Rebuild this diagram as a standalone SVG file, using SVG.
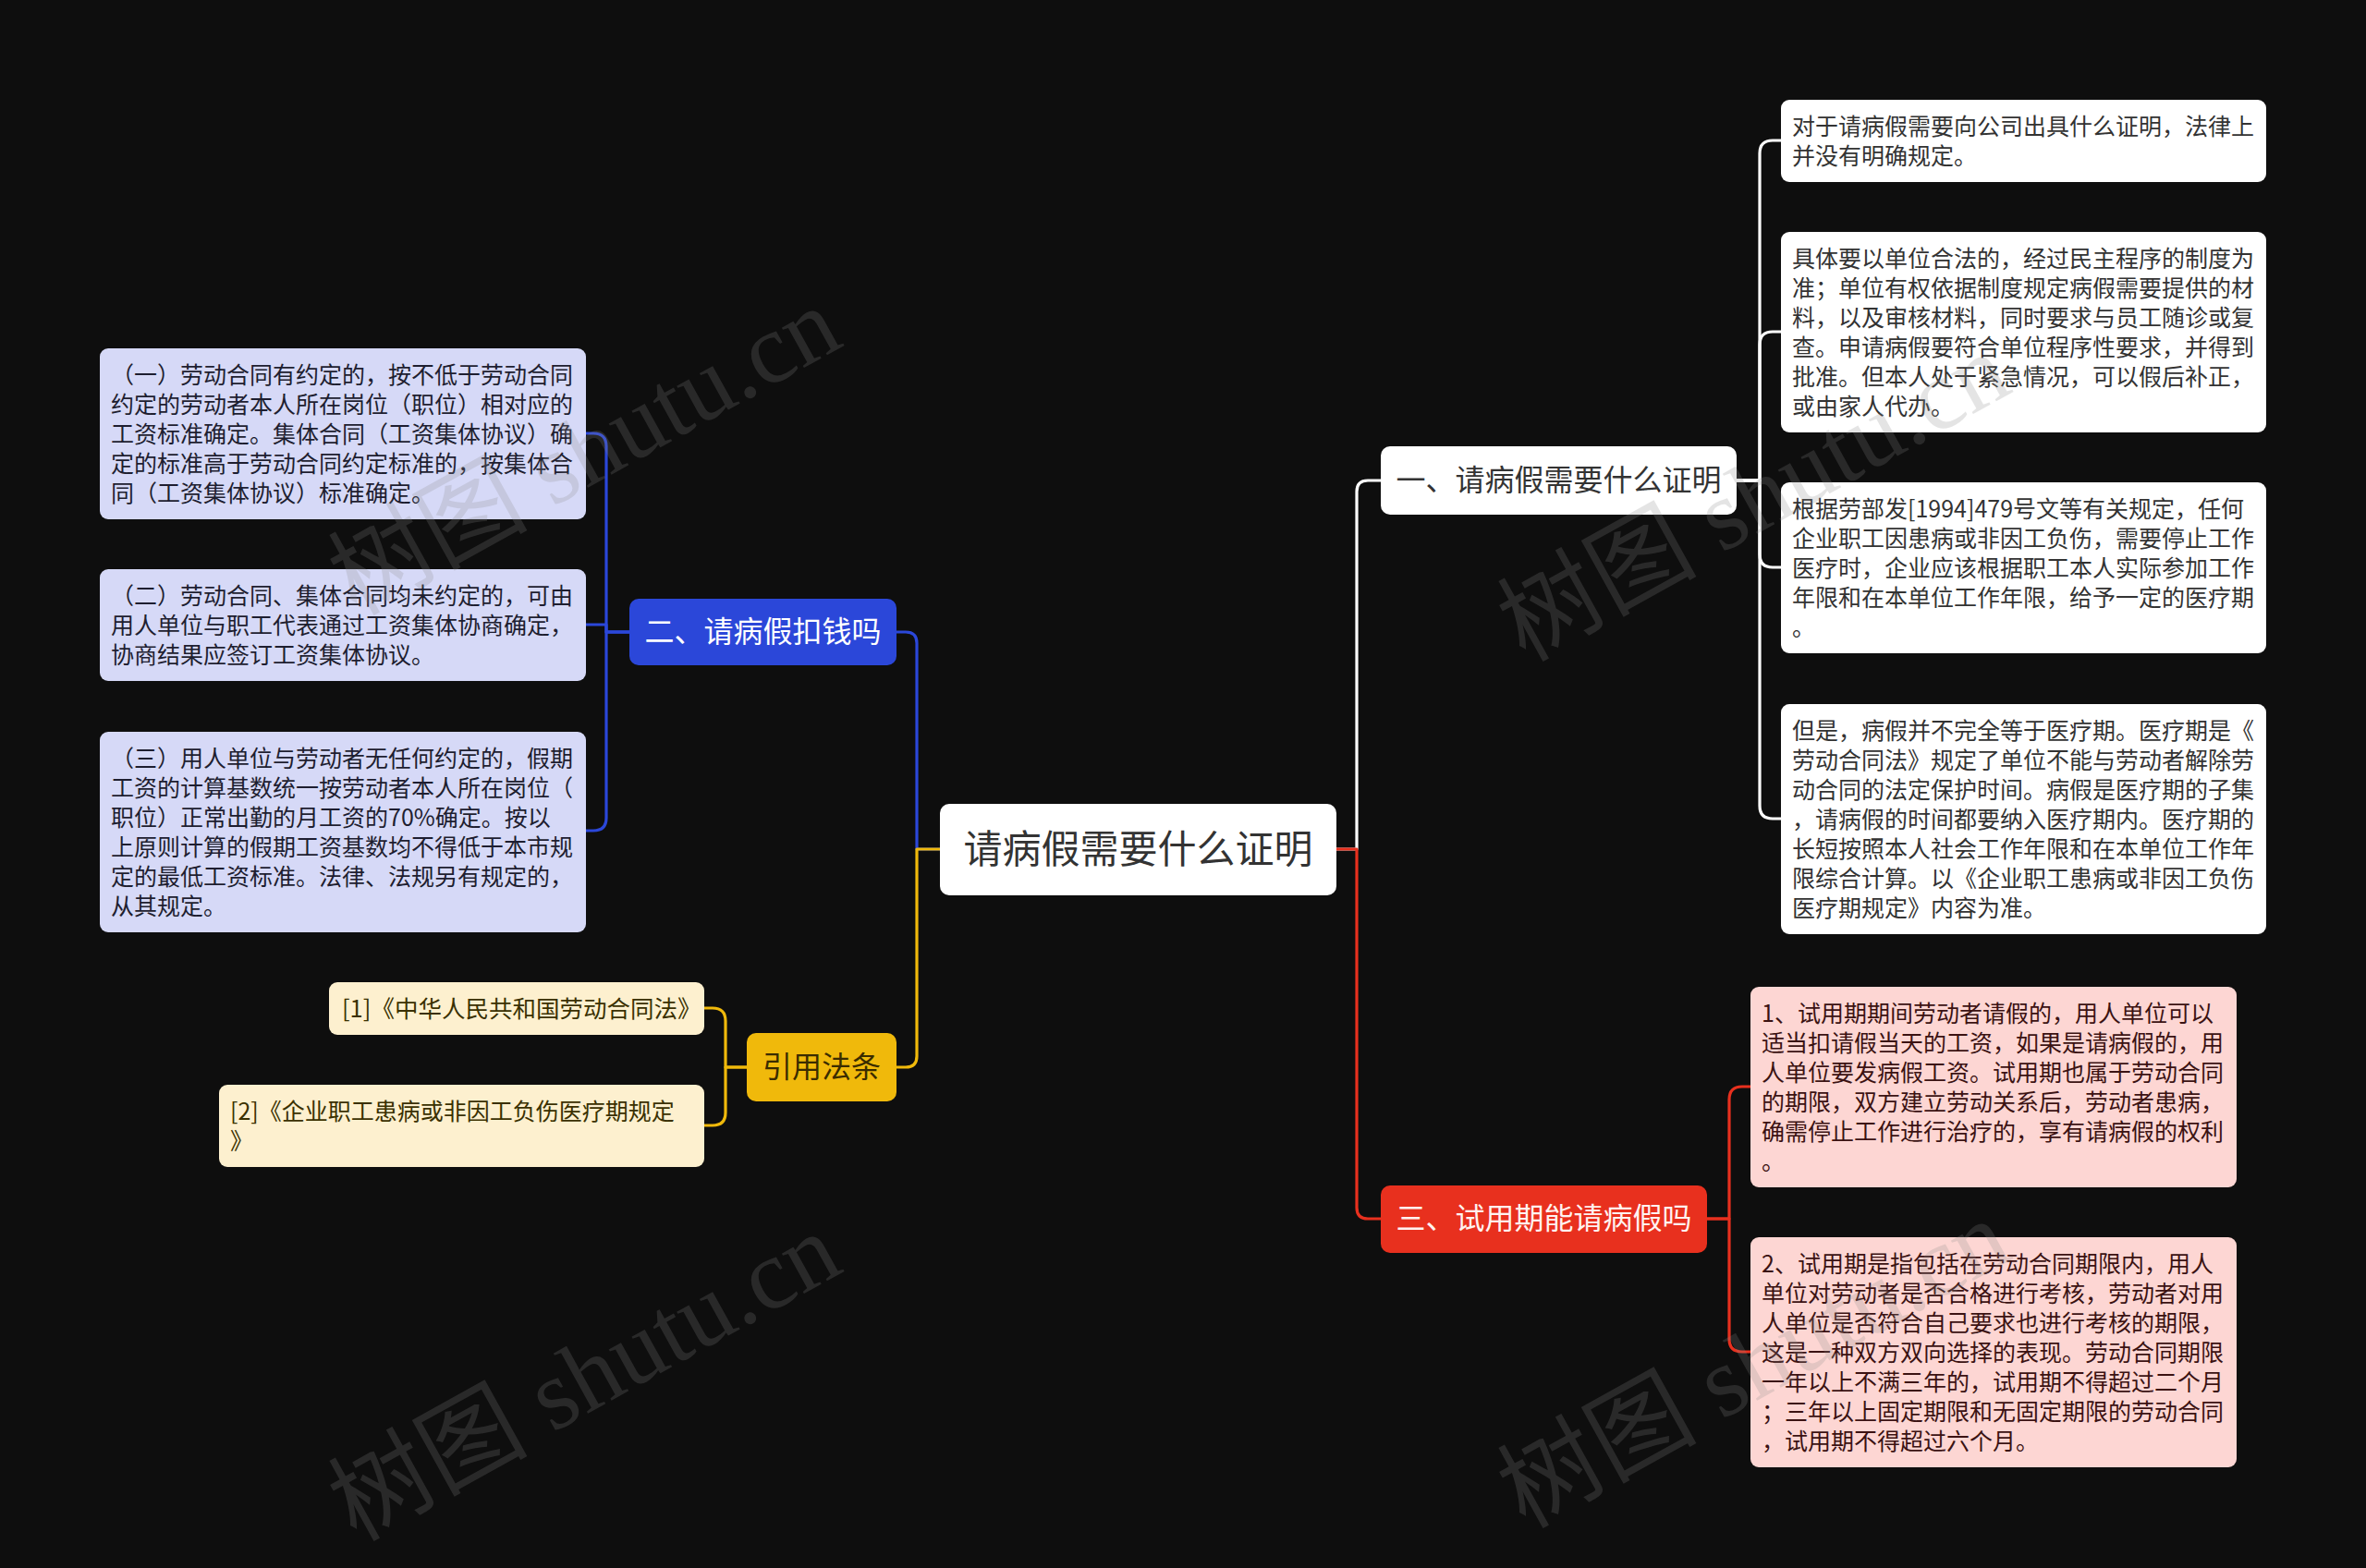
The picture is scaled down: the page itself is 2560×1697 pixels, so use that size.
<svg xmlns="http://www.w3.org/2000/svg" width="2560" height="1697" viewBox="0 0 2560 1697">
<style>
text{font-family:"Noto Sans CJK SC","Noto Sans",sans-serif}
.conn{fill:none;stroke-width:3.2;stroke-linejoin:round}
.cb{stroke:#2b47d9}.cy{stroke:#f0b90b}.cw{stroke:#ffffff}.cr{stroke:#e8301e}
.lt{font-size:25px}
.lb{fill:#d6d9f7}.tb{fill:#1e1e30}
.ly{fill:#fdf0cf}.ty{fill:#3a3000}
.lw{fill:#ffffff}.tw{fill:#333333}
.lr{fill:#fdd6d3}.tr{fill:#3b1212}
.br{font-size:32px;text-anchor:middle}
.wm{font-family:"Liberation Serif","Noto Sans CJK SC",serif;font-size:108px;fill:#8a8a8a;opacity:0.22}
</style>
<rect x="0" y="0" width="2560" height="1697" fill="#0e0e0e"/>
<g id="connectors">
<path class="conn cw" d="M1446,919 H1468 V532 Q1468,520 1480,520 H1494"/>
<path class="conn cr" d="M1446,919 H1468 V1307 Q1468,1319 1480,1319 H1494"/>
<path class="conn cb" d="M1017,919 H992 V696 Q992,684 980,684 H970"/>
<path class="conn cy" d="M1017,919 H992 V1143 Q992,1155 980,1155 H970"/>
<path class="conn cb" d="M681,684 H656 V483 Q656,469 642,469 H634"/>
<path class="conn cb" d="M681,684 H656 V676 H634"/>
<path class="conn cb" d="M681,684 H656 V885 Q656,899 642,899 H634"/>
<path class="conn cy" d="M808,1155 H785 V1105 Q785,1091 771,1091 H762"/>
<path class="conn cy" d="M808,1155 H785 V1204 Q785,1218 771,1218 H762"/>
<path class="conn cw" d="M1879,520 H1904 V166 Q1904,152 1918,152 H1927"/>
<path class="conn cw" d="M1879,520 H1904 V373 Q1904,359 1918,359 H1927"/>
<path class="conn cw" d="M1879,520 H1904 V600 Q1904,614 1918,614 H1927"/>
<path class="conn cw" d="M1879,520 H1904 V872 Q1904,886 1918,886 H1927"/>
<path class="conn cr" d="M1847,1319 H1871 V1190 Q1871,1176 1885,1176 H1894"/>
<path class="conn cr" d="M1847,1319 H1871 V1449 Q1871,1463 1885,1463 H1894"/>
</g>
<g id="center">
<rect x="1017" y="870" width="429" height="99" rx="10" fill="#ffffff"/>
<text x="1231.5" y="934" font-size="42" text-anchor="middle" fill="#333333">请病假需要什么证明</text>
</g>
<g id="branch-blue">
<rect x="681" y="648" width="289" height="72" rx="10" fill="#2b47d9"/>
<text class="br" x="825.5" y="695" fill="#ffffff">二、请病假扣钱吗</text>
</g>
<g id="branch-yellow">
<rect x="808" y="1118" width="162" height="74" rx="10" fill="#f0b90b"/>
<text class="br" x="889" y="1166" fill="#3a2c00">引用法条</text>
</g>
<g id="branch-white">
<rect x="1494" y="483" width="385" height="74" rx="10" fill="#ffffff"/>
<text class="br" x="1686.5" y="531" fill="#333333">一、请病假需要什么证明</text>
</g>
<g id="branch-red">
<rect x="1494" y="1283" width="353" height="73" rx="10" fill="#e8301e"/>
<text class="br" x="1670.5" y="1330" fill="#fff3f1">三、试用期能请病假吗</text>
</g>
<g id="leaf-l1">
<rect class="lb" x="108" y="377" width="526" height="185" rx="9"/>
<text class="lt tb" x="120"><tspan x="120" y="414.5">（一）劳动合同有约定的，按不低于劳动合同</tspan><tspan x="120" y="446.5">约定的劳动者本人所在岗位（职位）相对应的</tspan><tspan x="120" y="478.5">工资标准确定。集体合同（工资集体协议）确</tspan><tspan x="120" y="510.5">定的标准高于劳动合同约定标准的，按集体合</tspan><tspan x="120" y="542.5">同（工资集体协议）标准确定。</tspan></text>
</g>
<g id="leaf-l2">
<rect class="lb" x="108" y="616" width="526" height="121" rx="9"/>
<text class="lt tb"><tspan x="120" y="653.5">（二）劳动合同、集体合同均未约定的，可由</tspan><tspan x="120" y="685.5">用人单位与职工代表通过工资集体协商确定，</tspan><tspan x="120" y="717.5">协商结果应签订工资集体协议。</tspan></text>
</g>
<g id="leaf-l3">
<rect class="lb" x="108" y="792" width="526" height="217" rx="9"/>
<text class="lt tb"><tspan x="120" y="829.5">（三）用人单位与劳动者无任何约定的，假期</tspan><tspan x="120" y="861.5">工资的计算基数统一按劳动者本人所在岗位（</tspan><tspan x="120" y="893.5">职位）正常出勤的月工资的70%确定。按以</tspan><tspan x="120" y="925.5">上原则计算的假期工资基数均不得低于本市规</tspan><tspan x="120" y="957.5">定的最低工资标准。法律、法规另有规定的，</tspan><tspan x="120" y="989.5">从其规定。</tspan></text>
</g>
<g id="leaf-y1">
<rect class="ly" x="356" y="1063" width="406" height="57" rx="9"/>
<text class="ty" font-size="25.5" x="370" y="1100.5">[1]《中华人民共和国劳动合同法》</text>
</g>
<g id="leaf-y2">
<rect class="ly" x="237" y="1174" width="525" height="89" rx="9"/>
<text class="ty" font-size="25"><tspan x="249" y="1211.5">[2]《企业职工患病或非因工负伤医疗期规定</tspan><tspan x="249" y="1243.5">》</tspan></text>
</g>
<g id="leaf-r1">
<rect class="lw" x="1927" y="108" width="525" height="89" rx="9"/>
<text class="lt tw"><tspan x="1939" y="145.5">对于请病假需要向公司出具什么证明，法律上</tspan><tspan x="1939" y="177.5">并没有明确规定。</tspan></text>
</g>
<g id="leaf-r2">
<rect class="lw" x="1927" y="251" width="525" height="217" rx="9"/>
<text class="lt tw"><tspan x="1939" y="288.5">具体要以单位合法的，经过民主程序的制度为</tspan><tspan x="1939" y="320.5">准；单位有权依据制度规定病假需要提供的材</tspan><tspan x="1939" y="352.5">料，以及审核材料，同时要求与员工随诊或复</tspan><tspan x="1939" y="384.5">查。申请病假要符合单位程序性要求，并得到</tspan><tspan x="1939" y="416.5">批准。但本人处于紧急情况，可以假后补正，</tspan><tspan x="1939" y="448.5">或由家人代办。</tspan></text>
</g>
<g id="leaf-r3">
<rect class="lw" x="1927" y="522" width="525" height="185" rx="9"/>
<text class="lt tw"><tspan x="1939" y="559.5">根据劳部发[1994]479号文等有关规定，任何</tspan><tspan x="1939" y="591.5">企业职工因患病或非因工负伤，需要停止工作</tspan><tspan x="1939" y="623.5">医疗时，企业应该根据职工本人实际参加工作</tspan><tspan x="1939" y="655.5">年限和在本单位工作年限，给予一定的医疗期</tspan><tspan x="1939" y="687.5">。</tspan></text>
</g>
<g id="leaf-r4">
<rect class="lw" x="1927" y="762" width="525" height="249" rx="9"/>
<text class="lt tw"><tspan x="1939" y="799.5">但是，病假并不完全等于医疗期。医疗期是《</tspan><tspan x="1939" y="831.5">劳动合同法》规定了单位不能与劳动者解除劳</tspan><tspan x="1939" y="863.5">动合同的法定保护时间。病假是医疗期的子集</tspan><tspan x="1939" y="895.5">，请病假的时间都要纳入医疗期内。医疗期的</tspan><tspan x="1939" y="927.5">长短按照本人社会工作年限和在本单位工作年</tspan><tspan x="1939" y="959.5">限综合计算。以《企业职工患病或非因工负伤</tspan><tspan x="1939" y="991.5">医疗期规定》内容为准。</tspan></text>
</g>
<g id="leaf-red1">
<rect class="lr" x="1894" y="1068" width="526" height="217" rx="9"/>
<text class="lt tr"><tspan x="1906" y="1105.5">1、试用期期间劳动者请假的，用人单位可以</tspan><tspan x="1906" y="1137.5">适当扣请假当天的工资，如果是请病假的，用</tspan><tspan x="1906" y="1169.5">人单位要发病假工资。试用期也属于劳动合同</tspan><tspan x="1906" y="1201.5">的期限，双方建立劳动关系后，劳动者患病，</tspan><tspan x="1906" y="1233.5">确需停止工作进行治疗的，享有请病假的权利</tspan><tspan x="1906" y="1265.5">。</tspan></text>
</g>
<g id="leaf-red2">
<rect class="lr" x="1894" y="1339" width="526" height="249" rx="9"/>
<text class="lt tr"><tspan x="1906" y="1376.5">2、试用期是指包括在劳动合同期限内，用人</tspan><tspan x="1906" y="1408.5">单位对劳动者是否合格进行考核，劳动者对用</tspan><tspan x="1906" y="1440.5">人单位是否符合自己要求也进行考核的期限，</tspan><tspan x="1906" y="1472.5">这是一种双方双向选择的表现。劳动合同期限</tspan><tspan x="1906" y="1504.5">一年以上不满三年的，试用期不得超过二个月</tspan><tspan x="1906" y="1536.5">；三年以上固定期限和无固定期限的劳动合同</tspan><tspan x="1906" y="1568.5">，试用期不得超过六个月。</tspan></text>
</g>
<g id="watermarks">
<text class="wm" transform="translate(650,520) rotate(-29)" text-anchor="middle">树图 shutu.cn</text>
<text class="wm" transform="translate(1915,570) rotate(-29)" text-anchor="middle">树图 shutu.cn</text>
<text class="wm" transform="translate(650,1522) rotate(-29)" text-anchor="middle">树图 shutu.cn</text>
<text class="wm" transform="translate(1915,1508) rotate(-29)" text-anchor="middle">树图 shutu.cn</text>
</g>
</svg>
